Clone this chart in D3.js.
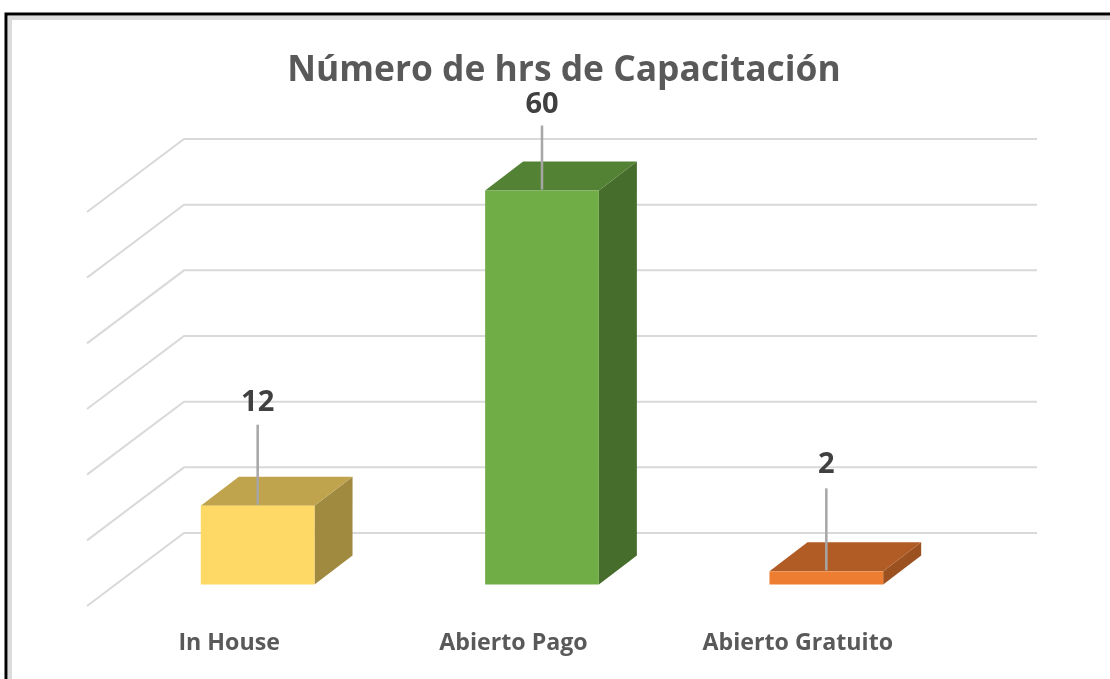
<!DOCTYPE html>
<html>
<head>
<meta charset="utf-8">
<script src="https://cdn.jsdelivr.net/npm/d3@7"></script>
<style>
    html, body { margin: 0; padding: 0; background: #fff; overflow: hidden; }
    text { font-family: "Open Sans", sans-serif; }
    svg { filter: blur(0.5px); display: block; }
</style>
</head>
<body>
<div id="chart"></div>
<script>
const categories = ["In House", "Abierto Pago", "Abierto Gratuito"];
const hours = [12, 60, 2];
const gridTicks = [0, 10, 20, 30, 40, 50, 60];
const frontColors = ["#ffd966", "#70ad47", "#ed7d31"];
const topColors = ["#bfa34d", "#548235", "#b15c25"];
const sideColors = ["#a08a40", "#466d2c", "#9b5120"];
const leaderLengths = [80, 64, 82];
const labelOffsets = [95, 78, 98];

const width = 1110, height = 679;

// the floor runs from the front edge back to the wall
const floorDx = 97, floorDy = -73;
// where the bars sit on the floor, and how deep they are
const insetDx = 28.5, insetDy = -21.5;
const depthDx = 38, depthDy = -29;

const svg = d3.select("#chart")
    .append("svg")
    .attr("width", width)
    .attr("height", height);

// frame
svg.append("path")
    .attr("d", "M6,679V14H1110")
    .style("fill", "none")
    .style("stroke", "#000")
    .style("stroke-width", 3);
svg.append("path")
    .attr("d", "M10,679V18H1110")
    .style("fill", "none")
    .style("stroke", "#dcdcdc")
    .style("stroke-width", 4);

const x = d3.scaleBand()
    .domain(categories)
    .range([87, 940])
    .paddingInner(0.6)
    .paddingOuter(0.3);

// y on the floor front plane; the back wall is the same scale shifted by the floor depth
const y = d3.scaleLinear()
    .domain([0, 60])
    .range([606, 212]);

const grid = svg.append("g")
    .selectAll("path")
    .data(gridTicks)
    .enter()
    .append("path")
    .attr("d", function(d) {
        return "M87," + y(d) + "L" + (87 + floorDx) + "," + (y(d) + floorDy) + "H1037";
    })
    .style("fill", "none")
    .style("stroke", "#d9d9d9")
    .style("stroke-width", 2);

const bars = svg.append("g")
    .selectAll("g")
    .data(categories)
    .enter()
    .append("g");

function barFront(i) {
    const left = x(categories[i]) + insetDx;
    return {
        left: left,
        right: left + x.bandwidth(),
        top: y(hours[i]) + insetDy,
        base: y(0) + insetDy
    };
}

// side face
bars.append("path")
    .attr("d", function(d, i) {
        const b = barFront(i);
        return "M" + b.right + "," + b.top +
            "l" + depthDx + "," + depthDy +
            "V" + (b.base + depthDy) +
            "L" + b.right + "," + b.base + "Z";
    })
    .style("fill", function(d, i) { return sideColors[i]; });

// top face
bars.append("path")
    .attr("d", function(d, i) {
        const b = barFront(i);
        return "M" + b.left + "," + b.top +
            "l" + depthDx + "," + depthDy +
            "H" + (b.right + depthDx) +
            "L" + b.right + "," + b.top + "Z";
    })
    .style("fill", function(d, i) { return topColors[i]; });

// front face
bars.append("rect")
    .attr("x", function(d, i) { return barFront(i).left; })
    .attr("y", function(d, i) { return barFront(i).top; })
    .attr("width", x.bandwidth())
    .attr("height", function(d, i) { return barFront(i).base - barFront(i).top; })
    .style("fill", function(d, i) { return frontColors[i]; });

// leader lines
bars.append("line")
    .attr("x1", function(d, i) { return barFront(i).left + x.bandwidth() / 2; })
    .attr("x2", function(d, i) { return barFront(i).left + x.bandwidth() / 2; })
    .attr("y1", function(d, i) { return barFront(i).top - 1; })
    .attr("y2", function(d, i) { return barFront(i).top - 1 - leaderLengths[i]; })
    .style("stroke", "#a6a6a6")
    .style("stroke-width", 2.5);

// value labels
bars.append("text")
    .attr("x", function(d, i) { return barFront(i).left + x.bandwidth() / 2; })
    .attr("y", function(d, i) { return barFront(i).top - labelOffsets[i]; })
    .attr("text-anchor", "middle")
    .style("font-size", "29px")
    .style("font-weight", 700)
    .style("fill", "#404040")
    .text(function(d, i) { return hours[i]; });

// category labels sit under the front edge of the floor
svg.append("g")
    .selectAll("text")
    .data(categories)
    .enter()
    .append("text")
    .attr("x", function(d) { return x(d) + x.bandwidth() / 2; })
    .attr("y", 650)
    .attr("text-anchor", "middle")
    .style("font-size", "23.2px")
    .style("font-weight", 700)
    .style("fill", "#595959")
    .text(function(d) { return d; });

svg.append("text")
    .attr("x", 564)
    .attr("y", 81)
    .attr("text-anchor", "middle")
    .style("font-size", "35.4px")
    .style("font-weight", 700)
    .style("fill", "#595959")
    .text("Número de hrs de Capacitación");
</script>
</body>
</html>
